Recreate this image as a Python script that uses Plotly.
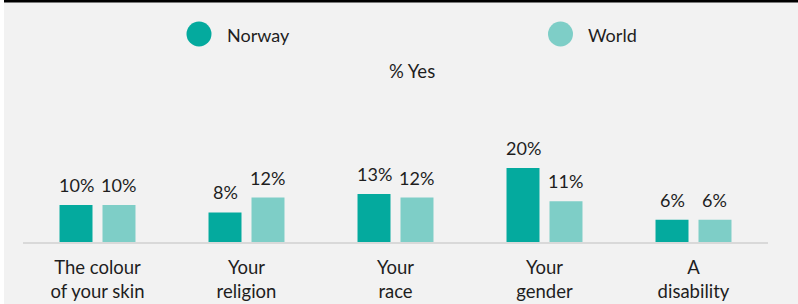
import plotly.graph_objects as go

categories = ["The colour<br>of your skin", "Your<br>religion", "Your<br>race", "Your<br>gender", "A<br>disability"]
norway = [10, 8, 13, 20, 6]
world = [10, 12, 12, 11, 6]
series_names = ["Norway", "World"]
colors = ["#04aa9e", "#7ecec7"]
subtitle = "% Yes"

W, H = 798, 304
L, R, T, B = 23, 30, 100, 62
PW, PH = W - L - R, H - T - B
PX_PER = 3.7
YMAX = PH / PX_PER
FONT = "Lato"
TXT = "#1e1e1e"

def px(xp):
    return (xp - L) / PW

def py(yp):
    return (H - B - yp) / PH

fig = go.Figure()
for name, vals, col in zip(series_names, [norway, world], colors):
    fig.add_trace(go.Bar(x=categories, y=vals, name=name, marker_color=col,
                         marker_line_width=0, showlegend=False, hoverinfo="skip"))

annotations = []
offset = 0.144
for k, vals in enumerate([norway, world]):
    sgn = -1 if k == 0 else 1
    for i, v in enumerate(vals):
        annotations.append(dict(x=i + sgn * offset, y=v, xref="x", yref="y",
                                text=f"{v}%", showarrow=False, yanchor="bottom",
                                yshift=7, font=dict(family=FONT, size=18, color=TXT)))

annotations.append(dict(x=px(412), y=py(71), xref="paper", yref="paper", text=subtitle,
                        showarrow=False, xanchor="center", yanchor="middle",
                        font=dict(family=FONT, size=18.5, color=TXT)))

shapes = []
legend_pos = [(199, 34, 225), (560.5, 34, 586)]
for (cx, cy, tx), name, col in zip(legend_pos, series_names, colors):
    shapes.append(dict(type="circle", xref="paper", yref="paper", xsizemode="pixel",
                       ysizemode="pixel", xanchor=px(cx), yanchor=py(cy),
                       x0=-12.5, x1=12.5, y0=-12.5, y1=12.5,
                       fillcolor=col, line_width=0))
    annotations.append(dict(x=px(tx), y=py(35), xref="paper", yref="paper", text=name,
                            showarrow=False, xanchor="left", yanchor="middle",
                            font=dict(family=FONT, size=18, color=TXT)))

# white strip on the left and black rule at top
shapes.append(dict(type="rect", xref="paper", yref="paper", x0=px(-2), x1=px(4),
                   y0=py(310), y1=py(-5), fillcolor="white", line_width=0, layer="above"))
shapes.append(dict(type="rect", xref="paper", yref="paper", x0=px(4), x1=px(800),
                   y0=py(2.5), y1=py(-2), fillcolor="black", line_width=0, layer="above"))

fig.update_layout(
    width=W, height=H,
    margin=dict(l=L, r=R, t=T, b=B, pad=0, autoexpand=False),
    paper_bgcolor="#f2f2f2", plot_bgcolor="#f2f2f2",
    barmode="group", bargap=0.423, bargroupgap=0.233,
    font=dict(family=FONT, size=18, color=TXT),
    annotations=annotations, shapes=shapes,
    showlegend=False,
)
fig.update_xaxes(showline=True, linecolor="#d9d9d9", linewidth=2, showgrid=False,
                 ticks="", tickfont=dict(family=FONT, size=18.5, color=TXT),
                 ticklabelstandoff=8, automargin=False, fixedrange=True)
fig.update_yaxes(range=[0, YMAX], visible=False, showgrid=False, zeroline=False,
                 automargin=False, fixedrange=True)

fig.write_html("out.html", config={"displayModeBar": False},
               post_script="document.body.style.margin='0';document.body.style.overflow='hidden';")
